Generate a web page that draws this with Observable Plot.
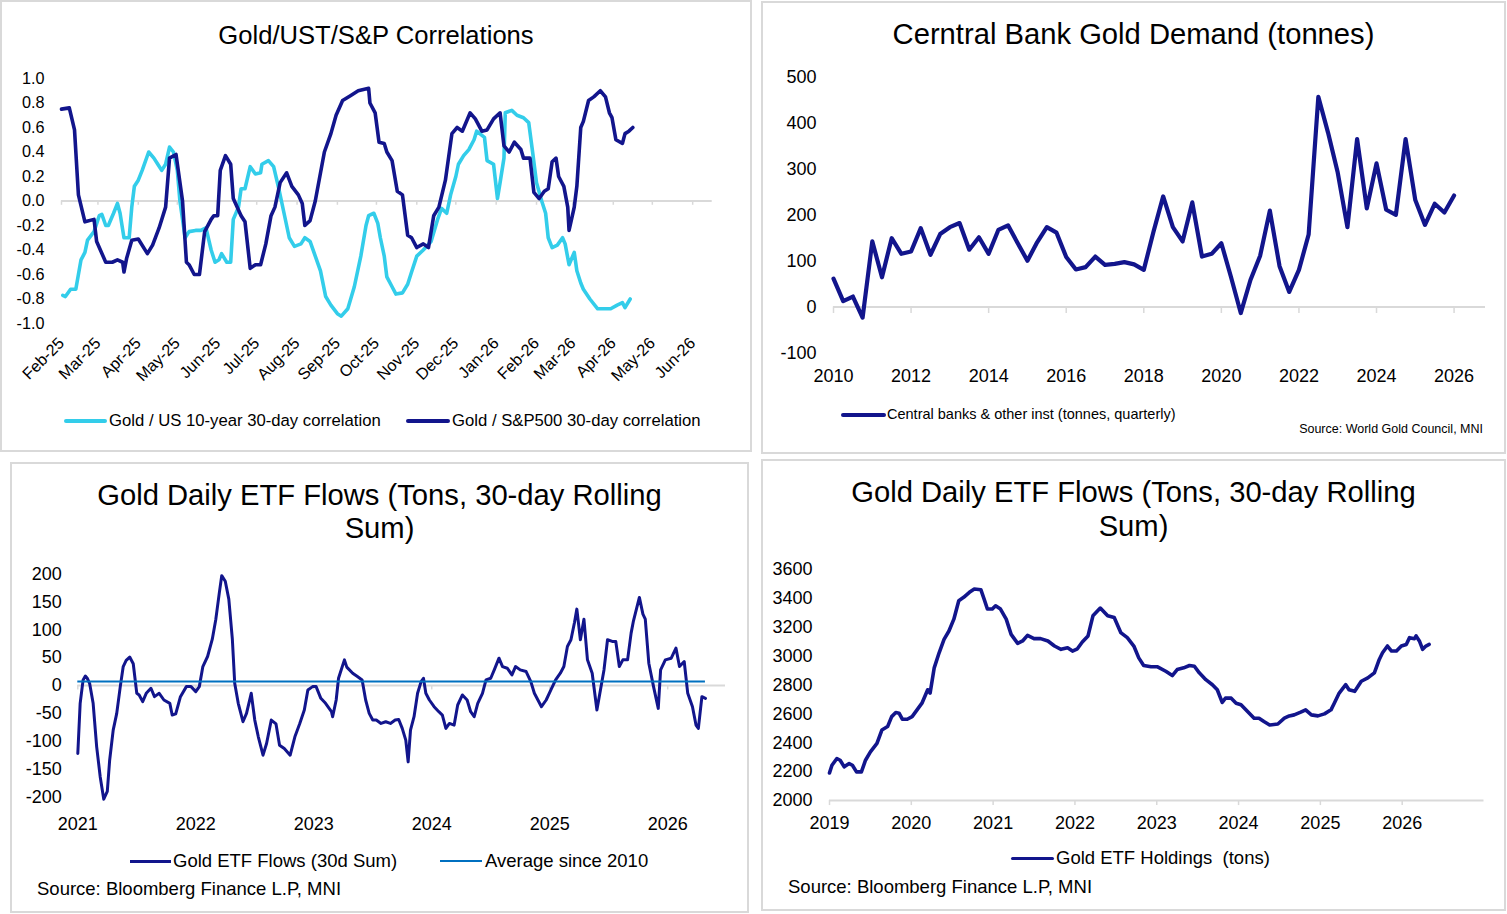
<!DOCTYPE html>
<html>
<head>
<meta charset="utf-8">
<script src="https://cdn.jsdelivr.net/npm/d3@7"></script>
<script src="https://cdn.jsdelivr.net/npm/@observablehq/plot@0.6"></script>
<style>
  body { margin: 0; background: #fff; }
  #root { position: relative; width: 1507px; height: 914px; overflow: hidden; font-family: "Liberation Sans", Arial, sans-serif; color: #000; }
  .panel { position: absolute; border: 2px solid #d9d9d9; box-sizing: border-box; }
  .t { position: absolute; white-space: nowrap; }
  .chart { position: absolute; }
  .chart svg { display: block; overflow: visible; }
  .ln { position: absolute; }
</style>
</head>
<body>
<div id="root">
  <div class="panel" style="left:0;top:0;width:752px;height:452px"></div>
  <div class="panel" style="left:761px;top:1px;width:745px;height:453px"></div>
  <div class="panel" style="left:10px;top:462px;width:739px;height:451px"></div>
  <div class="panel" style="left:761px;top:459px;width:745px;height:452px"></div>

  <!-- titles -->
  <div class="t" style="left:0;width:752px;top:21px;font-size:25.6px;line-height:28px;text-align:center">Gold/UST/S&amp;P Correlations</div>
  <div class="t" style="left:761px;width:745px;top:18px;font-size:29.2px;line-height:32px;text-align:center">Cerntral Bank Gold Demand (tonnes)</div>
  <div class="t" style="left:10px;width:739px;top:479px;font-size:29.2px;line-height:33px;text-align:center">Gold Daily ETF Flows (Tons, 30-day Rolling<br>Sum)</div>
  <div class="t" style="left:761px;width:745px;top:475px;font-size:29.2px;line-height:34px;text-align:center">Gold Daily ETF Flows (Tons, 30-day Rolling<br>Sum)</div>

  <div id="c1" class="chart" style="left:0;top:60px"></div>
  <div id="c2" class="chart" style="left:762px;top:60px"></div>
  <div id="c3" class="chart" style="left:11px;top:560px"></div>
  <div id="c4" class="chart" style="left:762px;top:560px"></div>

  <!-- legends -->
  <div class="ln" style="left:64px;top:418.8px;width:43px;height:4.5px;border-radius:2.25px;background:#33cdea"></div>
  <div class="t" style="left:109px;top:410.7px;font-size:16.7px;line-height:20px">Gold / US 10-year 30-day correlation</div>
  <div class="ln" style="left:406px;top:418.8px;width:44px;height:4.5px;border-radius:2.25px;background:#12158c"></div>
  <div class="t" style="left:452px;top:410.7px;font-size:16.7px;line-height:20px">Gold / S&amp;P500 30-day correlation</div>

  <div class="ln" style="left:841px;top:412.5px;width:45px;height:4.5px;border-radius:2.25px;background:#12158c"></div>
  <div class="t" style="left:887px;top:405px;font-size:14.5px;line-height:18px">Central banks &amp; other inst (tonnes, quarterly)</div>
  <div class="t" style="right:24px;top:421px;font-size:12.5px;line-height:16px">Source: World Gold Council, MNI</div>

  <div class="ln" style="left:130px;top:859.5px;width:41px;height:3px;background:#12158c"></div>
  <div class="t" style="left:173px;top:850px;font-size:18.5px;line-height:22px">Gold ETF Flows (30d Sum)</div>
  <div class="ln" style="left:440px;top:860px;width:42px;height:2px;background:#0070c0"></div>
  <div class="t" style="left:485px;top:850px;font-size:18.5px;line-height:22px">Average since 2010</div>
  <div class="t" style="left:37px;top:878px;font-size:18.5px;line-height:22px">Source: Bloomberg Finance L.P, MNI</div>

  <div class="ln" style="left:1011px;top:856.5px;width:43px;height:3.5px;border-radius:1.75px;background:#12158c"></div>
  <div class="t" style="left:1056px;top:847px;font-size:18.5px;line-height:22px">Gold ETF Holdings&nbsp; (tons)</div>
  <div class="t" style="left:788px;top:876px;font-size:18.5px;line-height:22px">Source: Bloomberg Finance L.P, MNI</div>
</div>

<script>
// ---------- Panel 1: Gold / UST / S&P correlations (days since 1 Feb 2025) ----------
const corrStart = "2025-02-01";
const corrEnd = "2026-06-16";
const monthLabels = ["Feb-25","Mar-25","Apr-25","May-25","Jun-25","Jul-25","Aug-25","Sep-25","Oct-25","Nov-25","Dec-25","Jan-26","Feb-26","Mar-26","Apr-26","May-26","Jun-26"];
const corrTicks = [-1.0,-0.8,-0.6,-0.4,-0.2,0.0,0.2,0.4,0.6,0.8,1.0];

const spxDay = [0,6,10,13,18,25,27,34,39,43,47,48,50,54,59,66,70,75,80,83,88,93,96,98,102,106,110,115,117,120,122,126,130,132,138,141,145,149,153,157,161,164,168,173,177,182,185,187,191,195,202,207,211,216,222,228,236,237,241,244,248,250,254,258,262,266,269,273,278,282,286,290,295,300,304,308,314,318,323,327,332,337,340,344,348,353,355,360,363,367,371,374,377,380,382,386,389,390,394,396,399,401,405,409,414,418,421,423,426,431,433,436,439];
const spxCorr = [0.75,0.76,0.58,0.05,-0.17,-0.15,-0.33,-0.5,-0.5,-0.48,-0.5,-0.58,-0.47,-0.32,-0.31,-0.43,-0.36,-0.22,-0.05,0.35,0.38,0.0,-0.5,-0.52,-0.6,-0.6,-0.25,-0.15,-0.12,-0.12,0.25,0.37,0.3,0.02,-0.12,-0.17,-0.55,-0.52,-0.52,-0.35,-0.12,-0.05,0.15,0.23,0.12,0.05,-0.02,-0.2,-0.16,0.0,0.4,0.55,0.7,0.82,0.86,0.9,0.92,0.8,0.72,0.48,0.47,0.4,0.33,0.08,0.05,-0.28,-0.3,-0.38,-0.35,-0.38,-0.12,-0.05,0.17,0.55,0.6,0.57,0.72,0.67,0.57,0.58,0.67,0.72,0.45,0.4,0.48,0.42,0.35,0.35,0.07,0.02,0.08,0.1,0.32,0.35,0.2,0.12,-0.05,-0.24,-0.05,0.12,0.6,0.65,0.82,0.85,0.9,0.85,0.72,0.68,0.5,0.47,0.55,0.57,0.6];

const ustDay = [1,3,7,11,13,15,18,20,25,29,31,34,36,40,43,45,48,52,54,56,59,62,67,71,74,77,80,83,86,89,91,95,98,103,107,111,115,118,121,123,127,130,132,136,138,141,145,149,153,154,159,163,167,171,175,179,184,187,191,195,199,203,207,212,215,220,225,230,234,236,240,243,245,248,250,254,257,262,266,269,273,278,284,289,292,296,299,303,305,309,313,317,319,325,327,332,335,337,340,341,346,350,355,359,362,365,369,372,374,377,381,385,387,390,394,396,399,401,406,412,417,422,427,431,433,437];
const ustCorr = [-0.77,-0.78,-0.72,-0.72,-0.6,-0.48,-0.42,-0.32,-0.25,-0.12,-0.11,-0.2,-0.2,-0.1,-0.02,-0.1,-0.3,-0.3,-0.05,0.12,0.17,0.25,0.4,0.35,0.3,0.25,0.3,0.44,0.4,0.25,0.0,-0.3,-0.25,-0.24,-0.24,-0.22,-0.4,-0.5,-0.48,-0.43,-0.5,-0.5,-0.15,-0.05,0.1,0.1,0.28,0.22,0.23,0.3,0.33,0.28,0.1,-0.1,-0.3,-0.37,-0.35,-0.3,-0.33,-0.45,-0.57,-0.78,-0.85,-0.92,-0.94,-0.88,-0.7,-0.45,-0.2,-0.12,-0.1,-0.18,-0.3,-0.45,-0.62,-0.7,-0.76,-0.75,-0.68,-0.58,-0.45,-0.4,-0.33,-0.15,-0.06,-0.1,0.05,0.2,0.3,0.37,0.42,0.5,0.57,0.52,0.33,0.3,0.02,0.15,0.35,0.72,0.74,0.7,0.68,0.64,0.4,0.15,0.0,-0.1,-0.3,-0.38,-0.36,-0.3,-0.35,-0.52,-0.42,-0.57,-0.67,-0.72,-0.8,-0.88,-0.88,-0.88,-0.85,-0.83,-0.87,-0.8];

// ---------- Panel 2: Central bank gold demand, quarterly from 2010 Q1 ----------
const cbFirstYear = 2010;
const cbDemand = [62,13,23,-23, 143,65,150,116, 121,172,114,159, 174,183,125,152, 116,168,178,139, 101,141,174,162, 109,82,87,110, 92,94,98,93, 81,164,241,174, 143,228,110,116, 139,65,-13,59, 112,210,89,33, 81,158,458,380, 293,174,366,215, 313,212,201,366, 233,179,225,206, 243];
const cbYearTicks = [2010,2012,2014,2016,2018,2020,2022,2024,2026];
const cbValueTicks = [-100,0,100,200,300,400,500];

// ---------- Panel 3: Gold daily ETF flows (30d sum) ----------
const flowYear = [2021.0,2021.02,2021.045,2021.064,2021.08,2021.1,2021.13,2021.16,2021.19,2021.22,2021.25,2021.27,2021.3,2021.33,2021.36,2021.385,2021.41,2021.44,2021.47,2021.5,2021.52,2021.55,2021.58,2021.62,2021.65,2021.69,2021.73,2021.78,2021.8,2021.83,2021.87,2021.92,2021.96,2022.0,2022.03,2022.06,2022.1,2022.14,2022.17,2022.2,2022.22,2022.25,2022.28,2022.31,2022.33,2022.36,2022.4,2022.43,2022.47,2022.5,2022.53,2022.57,2022.6,2022.64,2022.68,2022.71,2022.75,2022.8,2022.84,2022.88,2022.92,2022.95,2022.99,2023.02,2023.06,2023.1,2023.15,2023.16,2023.19,2023.21,2023.26,2023.28,2023.33,2023.37,2023.41,2023.44,2023.47,2023.5,2023.53,2023.57,2023.61,2023.65,2023.69,2023.72,2023.75,2023.78,2023.8,2023.82,2023.85,2023.88,2023.91,2023.93,2023.95,2023.98,2024.02,2024.06,2024.09,2024.12,2024.15,2024.19,2024.22,2024.26,2024.3,2024.33,2024.36,2024.39,2024.43,2024.46,2024.5,2024.53,2024.57,2024.6,2024.64,2024.68,2024.71,2024.75,2024.8,2024.84,2024.87,2024.9,2024.93,2024.97,2025.01,2025.05,2025.09,2025.12,2025.15,2025.18,2025.21,2025.23,2025.26,2025.29,2025.32,2025.36,2025.4,2025.43,2025.46,2025.49,2025.53,2025.56,2025.59,2025.62,2025.66,2025.69,2025.71,2025.76,2025.79,2025.81,2025.84,2025.88,2025.92,2025.94,2025.98,2026.03,2026.07,2026.1,2026.14,2026.17,2026.21,2026.24,2026.26,2026.29,2026.32];
const flowSum = [-122,-32,10,17,13,4,-32,-110,-164,-204,-190,-134,-80,-50,-2,34,45,51,39,-14,-17,-29,-14,-5,-20,-14,-26,-32,-53,-51,-20,-2,-2,-11,-2,34,52,83,119,167,197,187,155,83,4,-32,-65,-50,-14,-62,-92,-125,-104,-62,-69,-107,-113,-125,-92,-69,-44,-8,-2,-2,-23,-32,-47,-56,-26,13,46,33,22,16,10,-26,-50,-62,-62,-68,-65,-68,-62,-61,-77,-98,-137,-80,-56,-14,7,13,-14,-26,-38,-47,-53,-77,-68,-71,-35,-17,-26,-47,-56,-32,-14,10,13,28,49,34,31,19,34,28,25,7,-14,-26,-38,-26,-8,10,22,34,70,82,113,137,82,119,46,22,-44,-8,28,82,79,79,34,46,46,94,116,158,128,119,40,-2,-41,28,46,49,67,34,43,-14,-38,-71,-77,-20,-23];
const flowAverage = 7;
const flowYearTicks = [2021,2022,2023,2024,2025,2026];
const flowValueTicks = [-200,-150,-100,-50,0,50,100,150,200];

// ---------- Panel 4: Gold ETF holdings (tons) ----------
const holdYear = [2019.0,2019.03,2019.09,2019.13,2019.18,2019.24,2019.28,2019.33,2019.39,2019.44,2019.5,2019.58,2019.64,2019.71,2019.76,2019.81,2019.85,2019.89,2019.95,2020.01,2020.07,2020.13,2020.2,2020.23,2020.28,2020.34,2020.4,2020.46,2020.52,2020.58,2020.64,2020.71,2020.77,2020.85,2020.89,2020.93,2020.99,2021.03,2021.09,2021.16,2021.22,2021.3,2021.36,2021.42,2021.5,2021.58,2021.67,2021.75,2021.83,2021.91,2021.97,2022.03,2022.09,2022.16,2022.22,2022.31,2022.4,2022.48,2022.56,2022.64,2022.72,2022.78,2022.84,2022.93,2023.01,2023.11,2023.19,2023.25,2023.33,2023.4,2023.46,2023.52,2023.6,2023.68,2023.74,2023.8,2023.84,2023.91,2023.97,2024.03,2024.11,2024.19,2024.25,2024.31,2024.38,2024.48,2024.56,2024.62,2024.68,2024.76,2024.82,2024.89,2024.97,2025.05,2025.13,2025.17,2025.23,2025.31,2025.35,2025.42,2025.5,2025.58,2025.66,2025.72,2025.76,2025.82,2025.87,2025.93,2025.99,2026.05,2026.09,2026.15,2026.17,2026.21,2026.25,2026.29,2026.33];
const holdTons = [2191,2244,2291,2279,2233,2256,2244,2198,2198,2279,2337,2395,2488,2512,2581,2609,2605,2563,2563,2581,2628,2674,2767,2744,2919,3023,3116,3174,3256,3384,3407,3442,3465,3460,3395,3326,3326,3349,3326,3256,3151,3088,3105,3144,3121,3121,3105,3070,3047,3058,3035,3051,3098,3140,3279,3333,3279,3267,3163,3128,3070,2988,2935,2926,2926,2895,2865,2907,2919,2935,2930,2884,2837,2802,2767,2679,2709,2709,2674,2663,2616,2570,2570,2547,2523,2530,2570,2586,2593,2612,2628,2593,2586,2600,2628,2674,2744,2802,2767,2756,2826,2849,2884,2977,3023,3070,3035,3035,3070,3081,3128,3121,3140,3105,3047,3070,3081];
const holdYearTicks = [2019,2020,2021,2022,2023,2024,2025,2026];
const holdValueTicks = [2000,2200,2400,2600,2800,3000,3200,3400,3600];

// ---------- build ----------
const NAVY = "#12158c", CYAN = "#33cdea", AVG = "#0070c0", GRID = "#d9d9d9";
const base = d3.utcParse("%Y-%m-%d")(corrStart);
const endDate = d3.utcParse("%Y-%m-%d")(corrEnd);
const parseMon = d3.utcParse("%b-%y");
const monthDates = monthLabels.map(parseMon);
const fmtMon = d3.utcFormat("%b-%y");
const spxRows = spxDay.map((d, i) => ({date: d3.utcDay.offset(base, d), v: spxCorr[i]}));
const ustRows = ustDay.map((d, i) => ({date: d3.utcDay.offset(base, d), v: ustCorr[i]}));
const cbRows = cbDemand.map((v, i) => ({t: cbFirstYear + i / 4, v}));
const flowRows = flowYear.map((t, i) => ({t, v: flowSum[i]}));
const holdRows = holdYear.map((t, i) => ({t, v: holdTons[i]}));
const num = d => String(d);

function style(size) {
  return {fontFamily: '"Liberation Sans", Arial, sans-serif', fontSize: size, color: "#000", background: "transparent", overflow: "visible"};
}

const p1 = Plot.plot({
  width: 752, height: 340,
  marginLeft: 61, marginRight: 40.3, marginTop: 18, marginBottom: 77,
  style: style("16.2px"),
  x: {type: "utc", domain: [base, endDate]},
  y: {domain: [-1, 1]},
  marks: [
    Plot.ruleY([0], {stroke: GRID, strokeWidth: 2}),
    Plot.ruleX(monthDates, {x: d => d, y1: 0, y2: -0.035, stroke: GRID, strokeWidth: 1.5}),
    Plot.axisY({ticks: corrTicks, tickSize: 0, tickPadding: 17, tickFormat: d => d.toFixed(1), label: null}),
    Plot.axisX({ticks: monthDates, tickSize: 0, tickPadding: 17, tickRotate: -45, tickFormat: fmtMon, label: null}),
    Plot.line(ustRows, {x: "date", y: "v", stroke: CYAN, strokeWidth: 3.6, strokeLinejoin: "round"}),
    Plot.line(spxRows, {x: "date", y: "v", stroke: NAVY, strokeWidth: 3.6, strokeLinejoin: "round"})
  ]
});
document.getElementById("c1").append(p1);

const p2 = Plot.plot({
  width: 743, height: 330,
  marginLeft: 71, marginRight: 20, marginTop: 17, marginBottom: 37.5,
  style: style("18px"),
  x: {domain: [2010, 2026.81]},
  y: {domain: [-100, 500]},
  marks: [
    Plot.ruleY([0], {stroke: GRID, strokeWidth: 2}),
    Plot.ruleX(cbYearTicks, {x: d => d, y1: 0, y2: -14, stroke: GRID, strokeWidth: 1.5}),
    Plot.axisY({ticks: cbValueTicks, tickSize: 0, tickPadding: 17, tickFormat: num, label: null}),
    Plot.axisX({ticks: cbYearTicks, tickSize: 0, tickPadding: 16.5, tickFormat: num, label: null}),
    Plot.line(cbRows, {x: "t", y: "v", stroke: NAVY, strokeWidth: 4.2, strokeLinejoin: "round"})
  ]
});
document.getElementById("c2").append(p2);

const p3 = Plot.plot({
  width: 737, height: 280,
  marginLeft: 66.3, marginRight: 23, marginTop: 13.5, marginBottom: 43.5,
  style: style("18px"),
  x: {domain: [2021, 2026.49]},
  y: {domain: [-200, 200]},
  marks: [
    Plot.ruleY([0], {stroke: GRID, strokeWidth: 2}),
    Plot.ruleX(flowYearTicks, {x: d => d, y1: 0, y2: -8, stroke: GRID, strokeWidth: 1.5}),
    Plot.axisY({ticks: flowValueTicks, tickSize: 0, tickPadding: 16, tickFormat: num, label: null}),
    Plot.axisX({ticks: flowYearTicks, tickSize: 0, tickPadding: 20, tickFormat: num, label: null}),
    Plot.line(flowRows, {x: "t", y: "v", stroke: NAVY, strokeWidth: 3, strokeLinejoin: "round"}),
    Plot.ruleY([flowAverage], {x1: flowYear[0], x2: flowYear[flowYear.length - 1], stroke: AVG, strokeWidth: 2})
  ]
});
document.getElementById("c3").append(p3);

const p4 = Plot.plot({
  width: 743, height: 270,
  marginLeft: 67, marginRight: 21.5, marginTop: 9, marginBottom: 30,
  style: style("18px"),
  x: {domain: [2019, 2027]},
  y: {domain: [2000, 3600]},
  marks: [
    Plot.ruleY([2000], {stroke: GRID, strokeWidth: 2}),
    Plot.ruleX(holdYearTicks, {x: d => d, y1: 2000, y2: 1965, stroke: GRID, strokeWidth: 1.5}),
    Plot.axisY({ticks: holdValueTicks, tickSize: 0, tickPadding: 17, tickFormat: num, label: null}),
    Plot.axisX({ticks: holdYearTicks, tickSize: 0, tickPadding: 16, tickFormat: num, label: null}),
    Plot.line(holdRows, {x: "t", y: "v", stroke: NAVY, strokeWidth: 3.6, strokeLinejoin: "round"})
  ]
});
document.getElementById("c4").append(p4);
</script>
</body>
</html>
